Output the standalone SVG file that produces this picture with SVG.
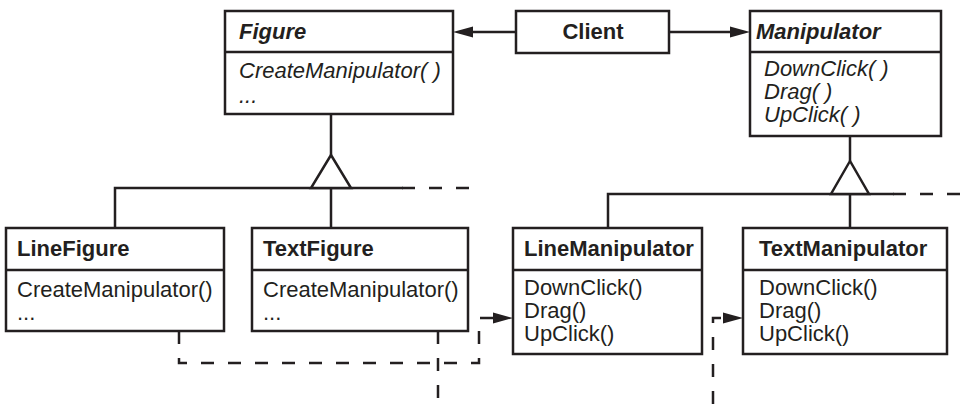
<svg xmlns="http://www.w3.org/2000/svg" width="961" height="404" viewBox="0 0 961 404">
<style>
  .box{fill:#fff;stroke:#231f20;stroke-width:2.5}
  .ln{fill:none;stroke:#231f20;stroke-width:2.5}
  .dash{fill:none;stroke:#231f20;stroke-width:2.5;stroke-dasharray:13 14}
  .tri{fill:#fff;stroke:#231f20;stroke-width:2.5;stroke-linejoin:miter}
  text{font-family:"Liberation Sans",Arial,Helvetica,sans-serif;font-size:22px;fill:#231f20}
  .b{font-weight:bold}
  .i{font-style:italic}
</style>
<defs>
  <marker id="arr" markerUnits="userSpaceOnUse" markerWidth="20" markerHeight="12" refX="0" refY="5.5" orient="auto" viewBox="0 0 20 11">
    <path d="M0,0 L20,5.5 L0,11 z" fill="#231f20"/>
  </marker>
</defs>

<g id="connectors">
  <!-- Client to Figure / Manipulator -->
  <path class="ln" d="M516,32 H473" marker-end="url(#arr)"/>
  <path class="ln" d="M669,32 H730" marker-end="url(#arr)"/>
  <!-- Figure inheritance -->
  <path class="ln" d="M331,114 V155"/>
  <path class="ln" d="M115,228 V188 H403"/>
  <path class="ln" d="M331,188 V228"/>
  <path class="dash" d="M402,188 H480"/>
  <polygon class="tri" points="331,155 311,188 351,188"/>
  <!-- Manipulator inheritance -->
  <path class="ln" d="M850,136 V161"/>
  <path class="ln" d="M608,228 V194 H894"/>
  <path class="ln" d="M850,194 V228"/>
  <path class="dash" d="M893,194 H961"/>
  <polygon class="tri" points="850,161 831,194 869,194"/>
  <!-- Creation dependencies -->
  <path class="dash" d="M179,331 V363 H479 V318 H493" marker-end="url(#arr)"/>
  <path class="dash" d="M438,331 V404"/>
  <path class="dash" d="M713,404 V318 H723" marker-end="url(#arr)"/>
</g>

<g id="Figure">
  <rect class="box" x="225" y="11" width="228" height="103"/>
  <line class="ln" x1="225" y1="52" x2="453" y2="52"/>
  <text class="b i" x="239" y="39">Figure</text>
  <text class="i" x="239" y="78">CreateManipulator( )</text>
  <text class="i" x="239" y="103">...</text>
</g>

<g id="Client">
  <rect class="box" x="516" y="11" width="153" height="42"/>
  <text class="b" x="593" y="39" text-anchor="middle">Client</text>
</g>

<g id="Manipulator">
  <rect class="box" x="750" y="11" width="191" height="125"/>
  <line class="ln" x1="750" y1="52" x2="941" y2="52"/>
  <text class="b i" x="756" y="39">Manipulator</text>
  <text class="i" x="764" y="76">DownClick( )</text>
  <text class="i" x="764" y="99">Drag( )</text>
  <text class="i" x="764" y="122">UpClick( )</text>
</g>

<g id="LineFigure">
  <rect class="box" x="6" y="228" width="218" height="103"/>
  <line class="ln" x1="6" y1="270" x2="224" y2="270"/>
  <text class="b" x="17" y="256">LineFigure</text>
  <text x="17" y="297">CreateManipulator()</text>
  <text x="17" y="320">...</text>
</g>

<g id="TextFigure">
  <rect class="box" x="252" y="228" width="216" height="103"/>
  <line class="ln" x1="252" y1="270" x2="468" y2="270"/>
  <text class="b" x="263" y="256">TextFigure</text>
  <text x="263" y="297">CreateManipulator()</text>
  <text x="263" y="320">...</text>
</g>

<g id="LineManipulator">
  <rect class="box" x="513" y="228" width="189" height="126"/>
  <line class="ln" x1="513" y1="270" x2="702" y2="270"/>
  <text class="b" x="524" y="256">LineManipulator</text>
  <text x="524" y="295">DownClick()</text>
  <text x="524" y="318">Drag()</text>
  <text x="524" y="341">UpClick()</text>
</g>

<g id="TextManipulator">
  <rect class="box" x="743" y="228" width="204" height="126"/>
  <line class="ln" x1="743" y1="270" x2="947" y2="270"/>
  <text class="b" x="759" y="256">TextManipulator</text>
  <text x="759" y="295">DownClick()</text>
  <text x="759" y="318">Drag()</text>
  <text x="759" y="341">UpClick()</text>
</g>
</svg>
